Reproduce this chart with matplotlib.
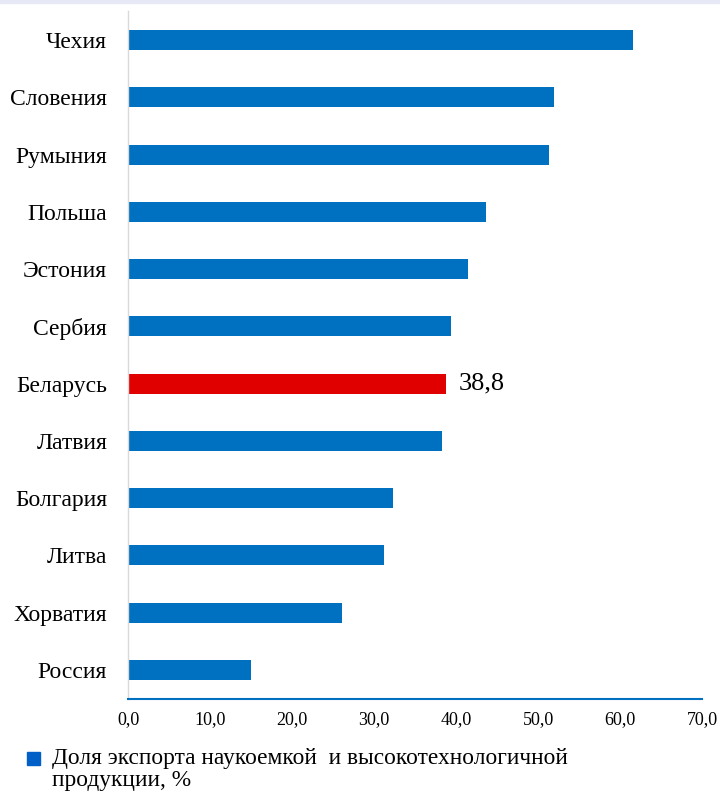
import matplotlib.pyplot as plt
from matplotlib.patches import Rectangle

plt.rcParams['font.family'] = ['Liberation Serif', 'DejaVu Serif']

countries = ['Чехия', 'Словения', 'Румыния', 'Польша', 'Эстония', 'Сербия',
             'Беларусь', 'Латвия', 'Болгария', 'Литва', 'Хорватия', 'Россия']
values = [61.6, 52.0, 51.3, 43.7, 41.5, 39.4, 38.8, 38.3, 32.3, 31.2, 26.1, 15.0]
highlight = 'Беларусь'
ticks = [0, 10, 20, 30, 40, 50, 60, 70]
legend_label = 'Доля экспорта наукоемкой  и высокотехнологичной\nпродукции, %'

blue = '#0070C0'
red = '#E00000'

fig = plt.figure(figsize=(7.2, 7.96), dpi=100)
ax = fig.add_axes([0.1778, 0.1224, 0.7972, 0.8633])

ypos = list(range(len(countries)))[::-1]
colors = [red if c == highlight else blue for c in countries]
ax.barh(ypos, values, height=0.35, color=colors)

ax.set_ylim(-0.5, len(countries) - 0.5)
ax.set_xlim(0, 70)
ax.set_yticks(ypos)
ax.set_yticklabels(countries, fontsize=17)
ax.set_xticks(ticks)
ax.set_xticklabels(['%d,0' % t for t in ticks], fontsize=13)
ax.tick_params(length=0)
ax.tick_params(axis='y', pad=15)
ax.tick_params(axis='x', pad=9)

for s in ['top', 'right']:
    ax.spines[s].set_visible(False)
ax.spines['left'].set_color('#d9d9d9')
ax.spines['left'].set_linewidth(1)
ax.spines['bottom'].set_color(blue)
ax.spines['bottom'].set_linewidth(1.5)

i = countries.index(highlight)
ax.text(values[i] + 1.5, ypos[i], ('%.1f' % values[i]).replace('.', ','),
        va='center', ha='left', fontsize=19)

# legend
fig.patches.append(Rectangle((27 / 720, 1 - 765 / 796), 13 / 720, 13 / 796,
                             transform=fig.transFigure, color='#0060C8'))
fig.text(52 / 720, 1 - 748 / 796, legend_label, fontsize=16.8, va='top', ha='left',
         linespacing=1.08)

# light top strip
fig.patches.append(Rectangle((0, 1 - 3 / 796), 1, 3 / 796,
                             transform=fig.transFigure, color='#e6e9f5'))

fig.savefig('out.png', dpi=100)
